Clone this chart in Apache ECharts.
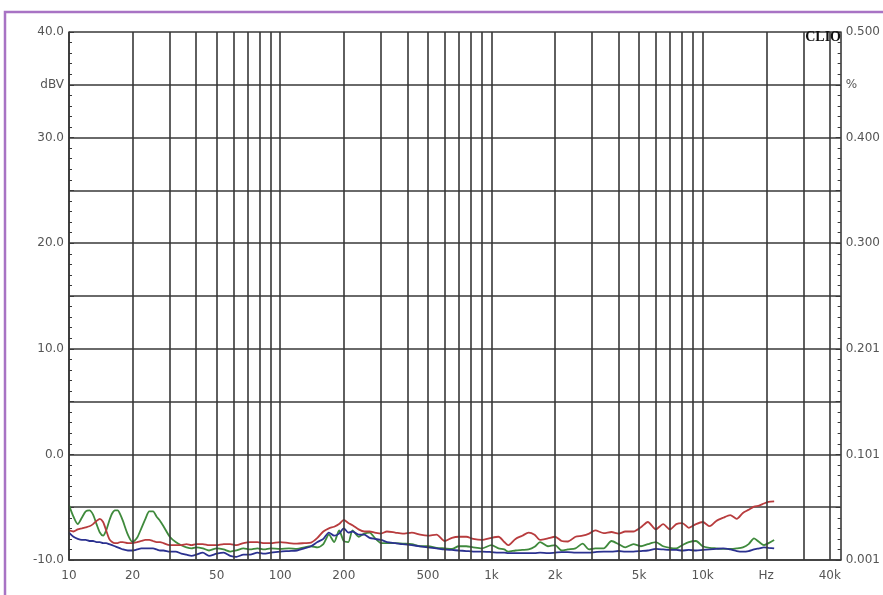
<!DOCTYPE html>
<html><head><meta charset="utf-8">
<script src="https://cdn.jsdelivr.net/npm/echarts@6/dist/echarts.min.js"></script>
<style>html,body{margin:0;padding:0;background:#fff}#c{width:883px;height:595px}</style>
</head><body><div id="c"></div>
<script>
const freqs = [
  10,10.5,11,11.5,12,12.5,13,13.5,14,14.5,15,15.5,16,16.5,17,17.5,18,19,20,21,22,23,24,25,26,27,28,
  30,32,34,36,38,40,43,46,50,54,58,62,67,72,78,84,90,
  100,110,120,130,140,150,160,170,180,190,200,210,220,235,250,265,280,300,320,350,380,420,460,500,550,600,650,
  700,760,820,900,1000,1080,1150,1200,1300,1400,1500,1600,1700,1850,2000,2150,2300,2500,2700,2900,3100,3400,3700,4000,4300,4700,5100,
  5500,6000,6500,7000,7500,8000,8600,9300,10000,10800,11600,12500,13500,14500,15500,16500,17500,18500,19500,20500,21800
];
const redDb = [
  -7.2,-7.3,-7.1,-7.0,-6.9,-6.8,-6.6,-6.3,-6.1,-6.4,-7.2,-8.0,-8.3,-8.4,-8.4,-8.3,-8.3,-8.4,-8.4,-8.3,-8.2,-8.1,-8.1,-8.2,-8.3,-8.3,-8.4,
  -8.6,-8.6,-8.6,-8.5,-8.6,-8.5,-8.5,-8.6,-8.6,-8.5,-8.5,-8.6,-8.4,-8.3,-8.3,-8.4,-8.4,
  -8.3,-8.4,-8.45,-8.4,-8.35,-7.9,-7.3,-7.0,-6.85,-6.6,-6.2,-6.5,-6.7,-7.1,-7.3,-7.3,-7.4,-7.5,-7.3,-7.4,-7.5,-7.4,-7.6,-7.7,-7.6,-8.2,-7.9,
  -7.8,-7.8,-8.0,-8.1,-7.9,-7.8,-8.3,-8.6,-8.0,-7.7,-7.4,-7.6,-8.1,-7.95,-7.8,-8.2,-8.25,-7.8,-7.7,-7.5,-7.2,-7.45,-7.35,-7.5,-7.3,-7.3,-6.9,
  -6.4,-7.1,-6.6,-7.1,-6.6,-6.5,-6.95,-6.6,-6.4,-6.8,-6.3,-6.0,-5.75,-6.1,-5.55,-5.25,-4.95,-4.85,-4.65,-4.5,-4.45
];
const greenDb = [
  -4.8,-5.9,-6.6,-6.0,-5.4,-5.3,-5.7,-6.6,-7.4,-7.7,-7.2,-6.3,-5.6,-5.3,-5.3,-5.7,-6.3,-7.6,-8.3,-7.9,-7.0,-6.1,-5.4,-5.4,-5.9,-6.3,-6.8,
  -7.8,-8.3,-8.6,-8.8,-8.9,-8.8,-8.9,-9.1,-8.9,-9.0,-9.2,-9.1,-8.9,-9.0,-8.9,-9.0,-8.9,
  -8.95,-8.9,-8.95,-8.8,-8.7,-8.8,-8.5,-7.6,-8.3,-7.2,-8.2,-8.3,-7.2,-7.8,-7.5,-7.4,-7.9,-8.4,-8.4,-8.4,-8.45,-8.5,-8.7,-8.7,-8.85,-8.9,-8.95,
  -8.7,-8.7,-8.8,-8.9,-8.6,-8.9,-9.0,-9.2,-9.1,-9.05,-9.0,-8.75,-8.3,-8.7,-8.6,-9.1,-9.0,-8.9,-8.45,-9.0,-8.9,-8.9,-8.2,-8.5,-8.8,-8.5,-8.7,
  -8.5,-8.3,-8.7,-8.85,-8.9,-8.6,-8.3,-8.2,-8.7,-8.85,-8.9,-8.95,-8.95,-8.9,-8.8,-8.5,-7.95,-8.3,-8.6,-8.4,-8.1
];
const blueDb = [
  -7.4,-7.8,-8.0,-8.1,-8.1,-8.2,-8.2,-8.3,-8.3,-8.4,-8.4,-8.5,-8.6,-8.7,-8.8,-8.9,-9.0,-9.1,-9.1,-9.0,-8.9,-8.9,-8.9,-8.9,-9.0,-9.1,-9.1,
  -9.2,-9.2,-9.4,-9.5,-9.6,-9.5,-9.3,-9.6,-9.4,-9.3,-9.6,-9.7,-9.5,-9.5,-9.3,-9.4,-9.3,
  -9.2,-9.15,-9.1,-8.9,-8.7,-8.3,-8.0,-7.4,-7.7,-7.5,-7.0,-7.4,-7.3,-7.6,-7.6,-7.9,-8.0,-8.1,-8.3,-8.4,-8.5,-8.6,-8.7,-8.8,-8.9,-9.0,-9.05,
  -9.1,-9.15,-9.2,-9.2,-9.25,-9.3,-9.3,-9.35,-9.35,-9.35,-9.35,-9.35,-9.3,-9.35,-9.3,-9.25,-9.25,-9.3,-9.3,-9.3,-9.25,-9.2,-9.2,-9.15,-9.2,-9.2,-9.15,
  -9.1,-8.95,-9.0,-9.05,-9.05,-9.1,-9.05,-9.1,-9.05,-9.0,-8.95,-8.9,-9.0,-9.15,-9.2,-9.15,-9.0,-8.9,-8.8,-8.85,-8.9
];
const gridFreqs = [10,20,30,40,50,60,70,80,90,100,200,300,400,500,600,700,800,900,1000,2000,3000,4000,5000,6000,7000,8000,9000,10000,20000,30000,40000];
const xTickValues = [10,20,50,100,200,500,1000,2000,5000,10000,20000,40000];
const xTickLabels = ['10','20','50','100','200','500','1k','2k','5k','10k','Hz','40k'];
const leftLabels = ['-10.0','','0.0','','10.0','','20.0','','30.0','dBV','40.0'];
const rightLabels = ['0.001','','0.101','','0.201','','0.300','','0.400','%','0.500'];

const gridColor = '#383838';
const textColor = '#555';
const fontFam = 'DejaVu Sans';

const markData = gridFreqs.map(f => {
  const k = xTickValues.indexOf(f);
  return {
    xAxis: f,
    label: k >= 0 ? {show: true, formatter: xTickLabels[k], position: 'start', distance: 10,
      color: textColor, fontSize: 12, fontFamily: fontFam} : {show: false}
  };
});

function yAx(pos, labels, split) {
  return {
    type: 'value', min: -10, max: 40, interval: 5, position: pos,
    axisLine: {show: true, lineStyle: {color: gridColor, width: 1.6}},
    axisTick: {show: true, inside: true, length: 5, lineStyle: {color: gridColor}},
    minorTick: {show: true, splitNumber: 5, length: 3, lineStyle: {color: gridColor}},
    splitLine: {show: split, lineStyle: {color: gridColor, width: 1.6}},
    axisLabel: {formatter: v => labels[Math.round((v + 10) / 5)], color: textColor,
      fontSize: 12, fontFamily: fontFam, margin: 5}
  };
}

function mk(name, vals, color, extra) {
  return Object.assign({
    name, type: 'line', showSymbol: false, smooth: 0.25,
    data: freqs.map((f, i) => [f, vals[i]]),
    lineStyle: {color, width: 1.8}, itemStyle: {color}, silent: true
  }, extra || {});
}

const chart = echarts.init(document.getElementById('c'), null, {renderer: 'canvas'});
chart.setOption({
  animation: false,
  backgroundColor: '#fff',
  grid: {left: 69, right: 40, top: 32, bottom: 35},
  xAxis: {type: 'log', logBase: 10, min: 10, max: 45000,
    axisLine: {show: true, onZero: false, lineStyle: {color: gridColor, width: 1.6}},
    axisTick: {show: false}, axisLabel: {show: false}, splitLine: {show: false}},
  yAxis: [yAx('left', leftLabels, true), yAx('right', rightLabels, false)],
  graphic: [
    {type: 'rect', z: -10, shape: {x: 5, y: 12, width: 900, height: 620},
      style: {fill: 'none', stroke: '#a873c4', lineWidth: 2.5}},
    {type: 'text', right: 42, top: 30, z: 100,
      style: {text: 'CLIO', font: 'bold 14px "Liberation Serif"', fill: '#111'}}
  ],
  series: [
    mk('green', greenDb, '#3f8a3c', {
      markLine: {silent: true, symbol: 'none', animation: false,
        lineStyle: {color: gridColor, width: 1.6, type: 'solid'},
        data: markData}
    }),
    mk('blue', blueDb, '#2b3190'),
    mk('red', redDb, '#b83c3e')
  ]
});
</script></body></html>
